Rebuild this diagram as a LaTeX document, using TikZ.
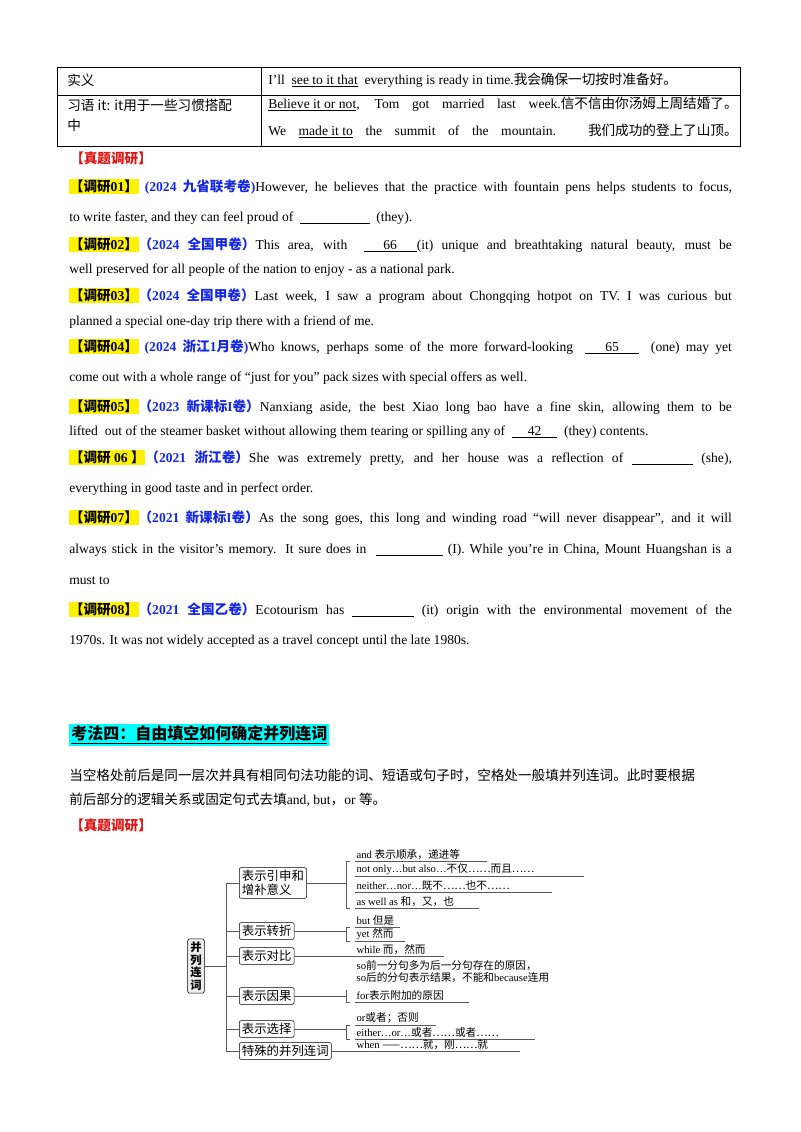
\documentclass[tikz,border=0pt]{standalone}
\usepackage{fontspec}
\setmainfont{Liberation Serif}
\newfontfamily\cjk{Noto Sans CJK SC}
\usepackage{xcolor}
\usetikzlibrary{positioning}
\definecolor{qblue}{RGB}{20,40,230}
\definecolor{qred}{RGB}{225,20,20}
\definecolor{qcyan}{RGB}{0,255,255}
\newcommand{\zh}[1]{{\cjk #1}}
\newcommand{\qtag}[1]{{\setlength{\fboxsep}{0.5pt}\colorbox{yellow}{\bfseries\zh{【调研}#1\zh{】}}}}
\newcommand{\src}[1]{\textcolor{qblue}{\bfseries #1}}
\newcommand{\blank}[1]{\underline{\makebox[40pt]{#1}}}
\newcommand{\jline}[1]{\makebox[497pt][s]{#1}}
\begin{document}
\begin{tikzpicture}[x=0.75pt,y=-0.75pt,font=\fontsize{10.2}{12}\selectfont,
  txt/.style={anchor=west,inner sep=0pt},
  branch/.style={draw,rounded corners=1.5pt,inner sep=2pt,font=\fontsize{9.3}{10.5}\selectfont\cjk,align=left},
  leaf/.style={anchor=south west,inner sep=1pt,font=\fontsize{8}{8.5}\selectfont},
  line/.style={gray!70!black,semithick}]
  \useasboundingbox (0,0) rectangle (800,1132);
  % table
  \draw (57,67) rectangle (740,146);
  \draw (57,95) -- (740,95);
  \draw (261,67) -- (261,146);
  \node[txt] (r1a) at (67,80) {\zh{实义}};
  \node[txt] (r1b) at (268,80) {I'll \ \underline{see to it that} \ everything is ready in time.\zh{我会确保一切按时准备好。}};
  \node[txt] (r2a) at (67,105) {\zh{习语 it: it用于一些习惯搭配}};
  \node[txt] (r2c) at (67,125) {\zh{中}};
  \node[txt] (r2b) at (268,104) {\makebox[352pt][s]{\underline{Believe it or not}, Tom got married last week.\zh{信不信由你汤姆上周结婚了。}}};
  \node[txt] (r2d) at (268,131) {\makebox[352pt][s]{We \underline{made it to} the summit of the mountain. \zh{我们成功的登上了山顶。}}};
  \node[txt,text=qred] (zt1) at (70,158) {\bfseries\zh{【真题调研】}};
  % questions
  \node[txt] (q1) at (69,187) {\jline{\qtag{01} \src{(2024 \zh{九省联考卷})}However, he believes that the practice with fountain pens helps students to focus,}};
  \node[txt] (q1b) at (69,218) {to write faster, and they can feel proud of \ \underline{\hspace{52pt}} \ (they).};
  \node[txt] (q2) at (69,245) {\jline{\qtag{02}\src{\zh{（}2024 \zh{全国甲卷）}}This area, with \ \underline{\makebox[40pt]{66}}(it) unique and breathtaking natural beauty, must be}};
  \node[txt] (q2b) at (69,270) {well preserved for all people of the nation to enjoy - as a national park.};
  \node[txt] (q3) at (69,296) {\jline{\qtag{03}\src{\zh{（}2024 \zh{全国甲卷）}}Last week, I saw a program about Chongqing hotpot on TV. I was curious but}};
  \node[txt] (q3b) at (69,322) {planned a special one-day trip there with a friend of me.};
  \node[txt] (q4) at (69,347) {\jline{\qtag{04} \src{(2024 \zh{浙江}1\zh{月卷})}Who knows, perhaps some of the more forward-looking \ \blank{65} \ (one) may yet}};
  \node[txt] (q4b) at (69,378) {come out with a whole range of “just for you” pack sizes with special offers as well.};
  \node[txt] (q5) at (69,407) {\jline{\qtag{05}\src{\zh{（}2023 \zh{新课标}I\zh{卷）}}Nanxiang aside, the best Xiao long bao have a fine skin, allowing them to be}};
  \node[txt] (q5b) at (69,432) {lifted \ out of the steamer basket without allowing them tearing or spilling any of \ \underline{\makebox[34pt]{42}} \ (they) contents.};
  \node[txt] (q6) at (69,458) {\jline{\qtag{ 06 }\src{\zh{（}2021 \zh{浙江卷）}}She was extremely pretty, and her house was a reflection of \underline{\hspace{46pt}} (she),}};
  \node[txt] (q6b) at (69,489) {everything in good taste and in perfect order.};
  \node[txt] (q7) at (69,518) {\jline{\qtag{07}\src{\zh{（}2021 \zh{新课标}I\zh{卷）}}As the song goes, this long and winding road “will never disappear”, and it will}};
  \node[txt] (q7b) at (69,550) {\jline{always stick in the visitor’s memory. It sure does in \ \underline{\hspace{50pt}} (I). While you’re in China, Mount Huangshan is a}};
  \node[txt] (q7c) at (69,581) {must to};
  \node[txt] (q8) at (69,610) {\jline{\qtag{08}\src{\zh{（}2021 \zh{全国乙卷）}}Ecotourism has \underline{\hspace{46pt}} (it) origin with the environmental movement of the}};
  \node[txt] (q8b) at (69,641) {1970s. It was not widely accepted as a travel concept until the late 1980s.};
  % section heading
  \node[txt,fill=qcyan,inner sep=1.5pt] (head) at (69,735) {\fontsize{12}{14}\cjk\bfseries\underline{考法四：自由填空如何确定并列连词}};
  \node[txt] (p1) at (69,775) {\zh{当空格处前后是同一层次并具有相同句法功能的词、短语或句子时，空格处一般填并列连词。此时要根据}};
  \node[txt] (p2) at (69,800) {\zh{前后部分的逻辑关系或固定句式去填}and, but\zh{，}or \zh{等。}};
  \node[txt,text=qred] (zt2) at (70,825) {\bfseries\zh{【真题调研】}};
  % tree
  \node[draw,fill=gray!15,rounded corners=1.5pt,inner sep=2pt,font=\fontsize{8.5}{9.5}\selectfont\cjk\bfseries,align=center] (root) at (196,966) {并\\列\\连\\词};
  \node[branch,anchor=west] (b1) at (239,883) {表示引申和\\增补意义};
  \node[branch,anchor=west] (b2) at (239,931) {表示转折};
  \node[branch,anchor=west] (b3) at (239,956) {表示对比};
  \node[branch,anchor=west] (b4) at (239,996) {表示因果};
  \node[branch,anchor=west] (b5) at (239,1029) {表示选择};
  \node[branch,anchor=west] (b6) at (239,1051) {特殊的并列连词};
  \coordinate (tr) at (226,966);
  \draw[line] (root.east) -- (tr);
  \draw[line] (226,883) -- (226,1051);
  \foreach \b in {b1,b2,b3,b4,b5,b6}
    \draw[line] (tr |- \b.west) -- (\b.west);
  % leaves
  \foreach \y/\w/\t [count=\i] in {
      861/487/{and \zh{表示顺承，递进等}},
      876/584/{not only…but also…\zh{不仅……而且……}},
      892/552/{neither…nor…\zh{既不……也不……}},
      908/479/{as well as \zh{和，又，也}},
      927/400/{but \zh{但是}},
      941/405/{yet \zh{然而}},
      956/444/{while \zh{而，然而}},
      1002/469/{for\zh{表示附加的原因}},
      1025/436/{or\zh{或者；否则}},
      1039/535/{either…or…\zh{或者……或者……}},
      1051/520/{when \zh{——……就，刚……就}}}
    {\node[leaf] (lf\i) at (355,\y) {\t};
     \draw[line] (lf\i.south west) -- (\w,\y);}
  \node[leaf] (so1) at (355,972) {so\zh{前一分句多为后一分句存在的原因，}};
  \node[leaf] (so2) at (355,984) {so\zh{后的分句表示结果，不能和}because\zh{连用}};
  % brackets
  \draw[line] (b1.east) -- (346,883);
  \draw[line] (350,861) -- (346,861) -- (346,908) -- (350,908);
  \draw[line] (b2.east) -- (346,931);
  \draw[line] (350,927) -- (346,927) -- (346,941) -- (350,941);
  \draw[line] (b3.east) -- (lf7.south west);
  \draw[line] (b4.east) -- (346,996);
  \draw[line] (350,1002) -- (346,1002) -- (346,990);
  \draw[line] (b5.east) -- (346,1029);
  \draw[line] (350,1025) -- (346,1025) -- (346,1039) -- (350,1039);
  \draw[line] (b6.east) -- (lf11.south west);
\end{tikzpicture}
\end{document}
